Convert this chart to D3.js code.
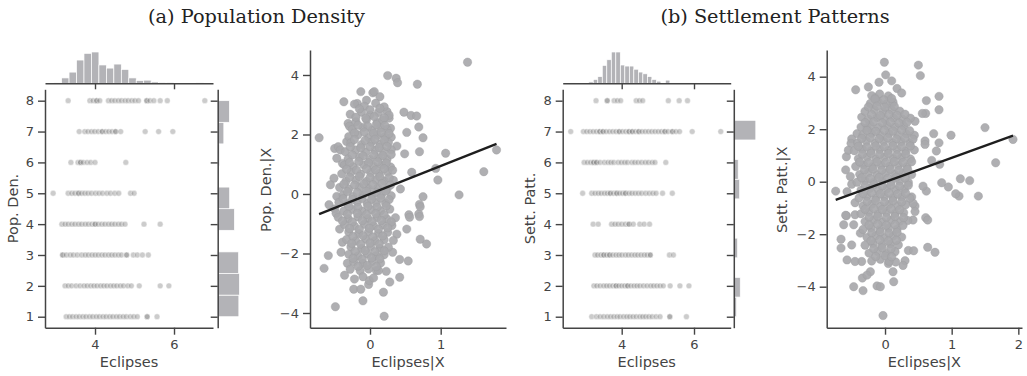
<!DOCTYPE html>
<html><head><meta charset="utf-8">
<script src="https://cdn.jsdelivr.net/npm/d3@7"></script>
<style>
body{margin:0;background:#fff}
svg{display:block}
</style>
</head><body>
<script>
// ---------------- DATA ----------------
const titles = ["(a) Population Density", "(b) Settlement Patterns"];
const xLabelJoint = "Eclipses";
const xLabelReg = "Eclipses|X";
const yLabelsJoint = ["Pop. Den.", "Sett. Patt."];
const yLabelsReg = ["Pop. Den.|X", "Sett. Patt.|X"];

const jointXTicks = [4, 6];
const jointYTicks = [1, 2, 3, 4, 5, 6, 7, 8];
const regXTicksA = [0, 1];
const regXTicksB = [0, 1, 2];
const regYTicks = [-4, -2, 0, 2, 4];

// joint scatter: [category value, eclipses values]
const jointA = [
  [8, [3.32,3.87,3.95,4.04,4.04,4.12,4.34,4.42,4.5,4.59,4.67,4.76,4.84,4.93,5.01,5.1,5.31,5.31,5.39,5.49,5.65,5.83,6.78]],
  [7, [3.6,3.74,3.82,3.91,3.99,4.08,4.18,4.18,4.27,4.35,4.43,4.52,4.52,4.65,5.27,5.61,5.97]],
  [6, [3.39,3.57,3.63,3.63,3.7,3.8,3.89,4.0,4.78]],
  [5, [2.94,3.32,3.41,3.49,3.58,3.58,3.66,3.74,3.82,3.91,4.01,4.1,4.19,4.3,4.39,4.5,4.6,4.9,4.99]],
  [4, [3.16,3.24,3.32,3.41,3.49,3.58,3.66,3.75,3.83,3.92,4.0,4.0,4.08,4.17,4.25,4.34,4.42,4.5,4.59,4.67,4.76,5.24,5.65]],
  [3, [3.18,3.18,3.27,3.37,3.45,3.55,3.66,3.75,3.83,3.92,4.0,4.08,4.17,4.25,4.34,4.42,4.5,4.59,4.67,4.8,4.8,4.97,5.07,5.2,5.35]],
  [2, [3.24,3.32,3.41,3.52,3.62,3.72,3.8,3.89,3.97,4.05,4.14,4.22,4.3,4.39,4.47,4.55,4.64,4.72,4.83,4.92,5.12,5.65,5.87]],
  [1, [3.27,3.35,3.43,3.52,3.6,3.69,3.77,3.86,3.94,4.03,4.11,4.2,4.28,4.37,4.45,4.54,4.62,4.71,4.79,4.89,4.98,5.07,5.32,5.32,5.57]]
];
const jointB = [
  [8, [3.29,3.6,3.6,3.79,3.88,3.97,4.4,4.49,4.58,5.29,5.59,5.82]],
  [7, [2.59,2.94,3.03,3.12,3.21,3.3,3.39,3.39,3.48,3.48,3.57,3.66,3.75,3.84,3.93,3.93,4.02,4.11,4.2,4.2,4.29,4.29,4.38,4.47,4.47,4.56,4.65,4.74,4.83,4.92,5.01,5.1,5.19,5.19,5.28,5.4,5.4,5.5,5.6,5.95,6.74]],
  [6, [2.96,3.05,3.14,3.22,3.22,3.3,3.3,3.4,3.52,3.62,3.7,3.78,3.9,3.99,4.08,4.16,4.28,4.36,4.45,4.55,4.65,4.74,4.84,4.92,5.22]],
  [5, [2.92,3.17,3.26,3.35,3.43,3.52,3.6,3.68,3.68,3.77,3.86,3.86,3.94,4.02,4.1,4.1,4.2,4.28,4.37,4.46,4.55,4.66,4.76,4.86,4.95,5.13,5.4]],
  [4, [3.21,3.35,3.72,3.81,3.9,4.0,4.1,4.2,4.2,4.32,4.5,4.62,4.77]],
  [3, [3.26,3.33,3.42,3.5,3.5,3.58,3.66,3.66,3.75,3.84,3.92,4.0,4.1,4.18,4.27,4.36,4.44,4.53,4.62,4.7,4.79,4.79,5.32,5.43]],
  [2, [3.23,3.31,3.4,3.5,3.58,3.66,3.75,3.84,3.84,3.92,4.0,4.08,4.16,4.16,4.25,4.34,4.42,4.5,4.6,4.7,4.8,4.88,4.97,5.06,5.15,5.34,5.61,5.86]],
  [1, [3.17,3.3,3.4,3.5,3.6,3.69,3.78,3.87,3.95,4.05,4.14,4.22,4.31,4.4,4.5,4.58,4.66,4.75,4.84,4.95,5.06,5.33,5.33,5.79]]
];

// marginal histograms (counts)
const eclHistStartA = 2.965, eclHistWidthA = 0.189;
const eclCountsA = [1,12,25,52,67,70,41,34,43,31,12,6,7,3,2,2,0,0,0,1];
const eclHistStartB = 2.59, eclHistWidthB = 0.1247;
const eclCountsB = [1,0,0,0,4,11,19,51,67,89,89,52,49,49,40,32,27,19,11,6,0,9,1,1,1,1,1,1,0,0,0,0,0,1];
const catRange = [1, 8];
const catCountsA = [76,78,75,0,60,43,0,7,22,42];        // 10 equal bins over [1,8]
const catCountsB = [37,87,0,51,14,0,78,59,0,296,10];    // 11 equal bins over [1,8]

// partial regression scatter points [Eclipses|X, Y|X]
const regA = [
  [-0.72,1.89],[1.38,4.43],[0.67,3.69],[1.79,1.48],[1.61,0.75],[1.26,-0.03],[1.07,1.37],[0.96,0.47],[0.93,0.86],[0.75,-0.09],[0.70,-0.35],[0.69,-0.67],[0.55,-0.70],[0.59,0.73],[0.75,1.89],[0.69,2.25],[0.70,1.42],[0.52,2.07],[0.48,2.75],[0.58,2.64],[0.66,2.62],[0.38,1.61],[0.49,1.35],[0.43,0.17],[0.25,3.98],[0.37,3.89],[0.39,3.74],[-0.37,3.10],[-0.13,3.44],[-0.18,3.04],[-0.05,3.15],[0.04,3.40],[0.06,3.44],[0.14,3.27],[-0.50,1.53],[-0.45,1.59],[-0.33,1.76],[-0.31,2.37],[-0.29,2.28],[-0.39,1.03],[-0.51,0.53],[-0.56,0.31],[-0.47,-0.08],[-0.58,-0.36],
  [-0.65,-2.50],[-0.59,-2.07],[-0.49,-3.79],[-0.10,-3.59],[0.20,-4.11],[0.19,-3.30],[-0.23,-3.20],[-0.13,-3.20],[-0.02,-3.04],[0.28,-2.96],[0.42,-2.80],[0.23,-2.60],[0.42,-2.20],[0.54,-2.25],[0.32,-1.96],[0.71,-1.52],[0.80,-1.68],[0.52,-1.18],[0.56,-0.78],[0.70,-0.76],[0.71,-0.43],[0.38,-1.35],[-0.43,-1.18],[-0.39,-1.62],[-0.41,-1.96],[-0.32,-2.33],[-0.36,-2.73],[-0.22,-2.86],[-0.01,-2.91],[0.09,-2.57],
  [0.24,2.77],[0.27,2.55],[0.29,2.21],[0.30,1.91],[-0.42,1.48],[-0.47,1.20],[-0.5,-0.5],[-0.48,-0.65],
  [-0.22,3.02],[-0.08,2.95],[0.08,3.05],[0.2,2.93],
  [-0.28,2.68],[-0.12,2.75],[0.0,2.66],[0.12,2.74],[0.27,2.65],
  [-0.2,2.43],[-0.05,2.5],[0.1,2.4],[0.18,2.48],
  [-0.25,2.17],[-0.1,2.24],[0.03,2.15],[0.15,2.22],[0.24,2.18],
  [-0.3,1.93],[-0.17,1.99],[-0.02,1.9],[0.1,1.97],[0.21,1.92],
  [-0.27,1.72],[-0.12,1.66],[0.02,1.74],[0.14,1.68],[0.26,1.73],
  [-0.35,1.42],[-0.2,1.48],[-0.06,1.41],[0.07,1.47],[0.19,1.43],[0.3,1.49],
  [-0.31,1.18],[-0.15,1.23],[0.0,1.16],[0.12,1.22],[0.24,1.17],
  [-0.36,0.97],[-0.24,0.92],[-0.09,0.98],[0.05,0.93],[0.17,0.97],[0.29,0.91],
  [-0.4,0.68],[-0.27,0.73],[-0.13,0.67],[0.01,0.72],[0.13,0.69],[0.25,0.74],
  [-0.34,0.43],[-0.2,0.47],[-0.05,0.42],[0.08,0.48],[0.2,0.44],[0.33,0.46],
  [-0.43,0.22],[-0.3,0.17],[-0.15,0.23],[-0.02,0.18],[0.11,0.21],[0.24,0.16],
  [-0.38,-0.03],[-0.24,-0.08],[-0.1,-0.02],[0.03,-0.07],[0.16,-0.04],[0.3,-0.06],
  [-0.44,-0.28],[-0.32,-0.33],[-0.18,-0.27],[-0.04,-0.32],[0.09,-0.29],[0.22,-0.31],
  [-0.37,-0.57],[-0.25,-0.52],[-0.11,-0.58],[0.02,-0.53],[0.15,-0.56],[0.28,-0.51],
  [-0.45,-0.78],[-0.31,-0.83],[-0.17,-0.77],[-0.03,-0.82],[0.1,-0.79],[0.24,-0.84],[0.36,-0.8],
  [-0.36,-1.03],[-0.22,-1.08],[-0.08,-1.02],[0.05,-1.07],[0.18,-1.04],[0.31,-1.06],
  [-0.3,-1.28],[-0.16,-1.33],[-0.02,-1.27],[0.12,-1.32],[0.25,-1.29],
  [-0.33,-1.53],[-0.2,-1.58],[-0.06,-1.52],[0.07,-1.57],[0.2,-1.54],[0.33,-1.56],
  [-0.27,-1.78],[-0.12,-1.83],[0.01,-1.77],[0.14,-1.82],[0.26,-1.79],
  [-0.3,-2.03],[-0.17,-2.08],[-0.04,-2.02],[0.09,-2.07],[0.2,-2.04],
  [-0.23,-2.28],[-0.1,-2.33],[0.03,-2.27],[0.15,-2.32],
  [-0.28,-2.53],[-0.14,-2.58],[-0.02,-2.52],[0.12,-2.57],
  [-0.1,-2.78],[0.05,-2.82],
  [-0.15,2.86],[0.0,2.83],[0.14,2.88],
  [-0.2,2.58],[-0.06,2.55],[0.06,2.6],[0.2,2.56],
  [-0.17,2.31],[-0.03,2.28],[0.09,2.33],[0.21,2.3],
  [-0.22,2.05],[-0.08,2.08],[0.05,2.04],[0.16,2.07],[0.27,2.03],
  [-0.22,1.83],[-0.07,1.8],[0.07,1.84],[0.2,1.81],
  [-0.28,1.58],[-0.13,1.55],[0.0,1.59],[0.13,1.56],[0.24,1.6],
  [-0.25,1.31],[-0.1,1.28],[0.05,1.32],[0.18,1.29],[0.3,1.33],
  [-0.29,1.06],[-0.16,1.09],[-0.02,1.05],[0.11,1.08],[0.23,1.04],
  [-0.33,0.83],[-0.19,0.8],[-0.05,0.84],[0.08,0.81],[0.2,0.85],[0.32,0.8],
  [-0.29,0.56],[-0.15,0.59],[0.0,0.55],[0.14,0.58],[0.27,0.54],
  [-0.37,0.33],[-0.22,0.3],[-0.09,0.34],[0.04,0.31],[0.17,0.35],[0.29,0.3],
  [-0.32,0.08],[-0.18,0.05],[-0.05,0.09],[0.09,0.06],[0.22,0.1],
  [-0.38,-0.16],[-0.25,-0.19],[-0.11,-0.15],[0.02,-0.18],[0.15,-0.14],[0.27,-0.19],
  [-0.3,-0.42],[-0.17,-0.45],[-0.03,-0.41],[0.1,-0.44],[0.23,-0.4],
  [-0.32,-0.68],[-0.18,-0.65],[-0.05,-0.69],[0.08,-0.66],[0.2,-0.7],
  [-0.39,-0.91],[-0.25,-0.94],[-0.11,-0.9],[0.03,-0.93],[0.16,-0.89],[0.3,-0.94],
  [-0.29,-1.16],[-0.15,-1.19],[-0.01,-1.15],[0.12,-1.18],[0.25,-1.14],
  [-0.24,-1.43],[-0.1,-1.4],[0.04,-1.44],[0.18,-1.41],
  [-0.26,-1.66],[-0.13,-1.69],[0.0,-1.65],[0.13,-1.68],
  [-0.21,-1.93],[-0.07,-1.9],[0.07,-1.94],[0.2,-1.91],
  [-0.24,-2.16],[-0.11,-2.19],[0.02,-2.15],[0.14,-2.18],
  [-0.17,-2.43],[-0.04,-2.4],[0.09,-2.44]
];
const regB = [
  [-0.01,4.55],[0.50,4.44],[0.53,4.04],[0.01,4.07],[-0.09,3.79],[0.10,3.84],[-0.44,3.50],[-0.25,3.61],[0.18,3.55],[0.25,3.38],[-0.15,3.20],[0.81,3.25],[0.81,2.74],[0.62,3.09],[0.61,2.60],[0.56,2.60],[0.45,2.30],[-0.35,2.46],[-0.27,2.06],[-0.42,1.83],[-0.50,1.63],[-0.51,1.46],[-0.59,0.45],[-0.74,-0.36],[-0.57,-0.38],[0.73,1.83],[0.99,1.77],[1.50,2.06],[1.92,1.61],[1.66,0.72],[1.27,0.04],[1.13,0.11],[1.40,-0.55],[1.11,-0.55],[1.06,-0.46],[0.95,-0.20],[0.85,-0.04],[0.82,0.66],[0.81,1.48],[0.60,1.55],[0.60,1.42],[0.77,1.17],[0.70,0.81],[0.62,-0.36],[0.57,-0.17],[0.40,-0.58],[0.45,-0.93],[0.61,-1.37],[-0.58,-1.30],[-0.45,-0.80],
  [-0.03,-5.10],[-0.47,-4.00],[-0.33,-4.15],[-0.34,-3.67],[-0.12,-3.97],[-0.07,-4.00],[0.13,-3.81],[0.12,-3.43],[0.30,-3.01],[0.27,-3.19],[0.35,-2.62],[0.43,-2.63],[0.64,-2.50],[0.75,-2.69],[0.64,-1.46],[0.42,-1.46],[0.45,-1.14],[0.42,-0.82],[-0.57,-2.98],[-0.66,-2.53],[-0.66,-2.19],[-0.50,-2.41],[-0.62,-1.64],[-0.59,-1.28],[-0.45,-1.26],[-0.47,-1.64],[-0.37,-1.96],[-0.35,-3.04],[-0.45,-3.04],[-0.22,-3.43],[-0.27,-3.56],[0.05,-3.12],[0.16,-3.06],
  [-0.58,0.95],[-0.55,1.2],[-0.52,0.2],[-0.5,-0.1],
  [-0.2,3.28],[-0.08,3.34],[0.05,3.27],
  [-0.22,2.98],[-0.1,3.04],[0.02,2.96],[0.12,3.03],
  [-0.3,2.68],[-0.16,2.74],[-0.03,2.67],[0.1,2.73],[0.22,2.69],
  [-0.25,2.38],[-0.12,2.44],[0.0,2.37],[0.13,2.43],[0.26,2.39],[0.38,2.42],
  [-0.36,2.08],[-0.22,2.14],[-0.1,2.07],[0.03,2.13],[0.15,2.09],[0.28,2.12],
  [-0.33,1.78],[-0.2,1.84],[-0.07,1.77],[0.06,1.83],[0.19,1.79],[0.32,1.82],[0.44,1.77],
  [-0.41,1.48],[-0.28,1.54],[-0.15,1.47],[-0.02,1.53],[0.11,1.49],[0.24,1.52],[0.37,1.47],
  [-0.46,1.18],[-0.34,1.24],[-0.21,1.17],[-0.08,1.23],[0.05,1.19],[0.18,1.22],[0.31,1.17],[0.44,1.21],
  [-0.4,0.88],[-0.27,0.94],[-0.14,0.87],[-0.01,0.93],[0.12,0.89],[0.25,0.92],[0.38,0.87],
  [-0.44,0.58],[-0.32,0.64],[-0.19,0.57],[-0.06,0.63],[0.07,0.59],[0.2,0.62],[0.33,0.57],
  [-0.38,0.28],[-0.25,0.34],[-0.12,0.27],[0.01,0.33],[0.14,0.29],[0.27,0.32],[0.4,0.27],
  [-0.42,-0.02],[-0.3,0.04],[-0.17,-0.03],[-0.04,0.03],[0.09,-0.01],[0.22,0.02],[0.35,-0.03],
  [-0.36,-0.32],[-0.23,-0.26],[-0.1,-0.33],[0.03,-0.27],[0.16,-0.31],[0.29,-0.28],
  [-0.39,-0.62],[-0.27,-0.56],[-0.14,-0.63],[-0.01,-0.57],[0.12,-0.61],[0.25,-0.58],[0.37,-0.63],
  [-0.33,-0.92],[-0.2,-0.86],[-0.07,-0.93],[0.06,-0.87],[0.19,-0.91],[0.31,-0.88],
  [-0.36,-1.22],[-0.24,-1.16],[-0.11,-1.23],[0.02,-1.17],[0.15,-1.21],[0.28,-1.18],
  [-0.3,-1.52],[-0.17,-1.46],[-0.04,-1.53],[0.09,-1.47],[0.22,-1.51],[0.34,-1.48],
  [-0.33,-1.82],[-0.21,-1.76],[-0.08,-1.83],[0.05,-1.77],[0.18,-1.81],
  [-0.27,-2.12],[-0.14,-2.06],[-0.01,-2.13],[0.12,-2.07],[0.25,-2.11],
  [-0.3,-2.42],[-0.18,-2.36],[-0.05,-2.43],[0.08,-2.37],[0.2,-2.41],
  [-0.24,-2.72],[-0.11,-2.66],[0.02,-2.73],[0.15,-2.67],
  [-0.2,-3.02],[-0.07,-2.96],[0.06,-3.03],
  [-0.15,3.15],[-0.02,3.12],[0.1,3.17],
  [-0.25,2.85],[-0.12,2.88],[0.0,2.84],[0.14,2.87],
  [-0.2,2.55],[-0.07,2.52],[0.06,2.56],[0.18,2.53],[0.3,2.57],
  [-0.3,2.25],[-0.17,2.28],[-0.04,2.24],[0.08,2.27],[0.21,2.23],[0.33,2.26],
  [-0.27,1.95],[-0.14,1.92],[-0.01,1.96],[0.12,1.93],[0.25,1.97],[0.37,1.94],
  [-0.35,1.65],[-0.22,1.68],[-0.09,1.64],[0.04,1.67],[0.17,1.63],[0.3,1.66],[0.42,1.62],
  [-0.4,1.35],[-0.27,1.32],[-0.14,1.36],[-0.01,1.33],[0.12,1.37],[0.25,1.34],[0.38,1.36],
  [-0.34,1.05],[-0.21,1.08],[-0.08,1.04],[0.05,1.07],[0.18,1.03],[0.31,1.06],
  [-0.38,0.75],[-0.25,0.72],[-0.12,0.76],[0.01,0.73],[0.14,0.77],[0.27,0.74],[0.4,0.76],
  [-0.31,0.45],[-0.18,0.48],[-0.05,0.44],[0.08,0.47],[0.21,0.43],[0.34,0.46],
  [-0.35,0.15],[-0.22,0.12],[-0.09,0.16],[0.04,0.13],[0.17,0.17],[0.3,0.14],
  [-0.3,-0.15],[-0.17,-0.12],[-0.04,-0.16],[0.09,-0.13],[0.22,-0.17],[0.35,-0.14],
  [-0.33,-0.45],[-0.2,-0.42],[-0.07,-0.46],[0.06,-0.43],[0.19,-0.47],[0.31,-0.44],
  [-0.27,-0.75],[-0.14,-0.72],[-0.01,-0.76],[0.12,-0.73],[0.25,-0.77],
  [-0.3,-1.05],[-0.17,-1.02],[-0.04,-1.06],[0.09,-1.03],[0.22,-1.07],
  [-0.24,-1.35],[-0.11,-1.32],[0.02,-1.36],[0.15,-1.33],[0.28,-1.37],
  [-0.24,-1.65],[-0.11,-1.62],[0.02,-1.66],[0.15,-1.63],[0.27,-1.67],
  [-0.2,-1.95],[-0.07,-1.92],[0.06,-1.96],[0.18,-1.93],
  [-0.21,-2.25],[-0.08,-2.22],[0.05,-2.26],[0.17,-2.23],
  [-0.17,-2.55],[-0.04,-2.52],[0.09,-2.56],
  [-0.14,-2.85],[0.0,-2.82],[0.1,-2.86]
];
const regSlopeA = 0.94, regInterceptA = 0.0;
const regSlopeB = 0.92, regInterceptB = -0.01;

// ---------------- DRAWING ----------------
const W = 1027, H = 376;
const AX = "#444", TXT = "#444";
const SANS = "DejaVu Sans, sans-serif";
const svg = d3.select("body").append("svg").attr("width", W).attr("height", H);

function styleAxis(g) {
  g.selectAll("path.domain").attr("stroke", AX).attr("stroke-width", 1.5);
  g.selectAll(".tick line").attr("stroke", AX).attr("stroke-width", 1.4);
  g.selectAll(".tick text").attr("fill", TXT).style("font-size", "13px").style("font-family", SANS);
}

function yLabel(txt, cx, cy) {
  svg.append("text").attr("transform", `translate(${cx},${cy}) rotate(-90)`)
    .attr("text-anchor", "middle").attr("dominant-baseline", "central")
    .style("font-size", "14.5px").style("font-family", SANS).attr("fill", TXT).text(txt);
}
function xLabel(txt, cx, by) {
  svg.append("text").attr("x", cx).attr("y", by).attr("text-anchor", "middle")
    .style("font-size", "14.5px").style("font-family", SANS).attr("fill", TXT).text(txt);
}
const fmt = d => d < 0 ? "\u2212" + Math.abs(d) : String(d);

function joint(c) {
  const x = d3.scaleLinear().domain(c.xDom).range([c.left, c.right]);
  const y = d3.scaleLinear().domain(c.yDom).range([c.bottom, c.top]);
  const pts = c.rows.flatMap(([yv, xs]) => xs.map(xv => [xv, yv]));
  svg.append("g").selectAll("circle").data(pts).join("circle")
    .attr("cx", d => x(d[0])).attr("cy", d => y(d[1])).attr("r", 2.9)
    .attr("fill", "#7f7f7f").attr("fill-opacity", 0.4)
    .attr("stroke", "#fff").attr("stroke-width", 0.4);
  svg.append("g").attr("transform", `translate(0,${c.bottom})`)
    .call(d3.axisBottom(x).tickValues(jointXTicks).tickFormat(fmt).tickSize(7).tickSizeOuter(0).tickPadding(5))
    .call(styleAxis);
  svg.append("g").attr("transform", `translate(${c.left},0)`)
    .call(d3.axisLeft(y).tickValues(jointYTicks).tickFormat(fmt).tickSize(7).tickSizeOuter(0).tickPadding(4))
    .call(styleAxis);
  // top marginal histogram
  const hTop = d3.scaleLinear().domain([0, d3.max(c.xCounts)]).range([0, c.topMax]);
  svg.append("g").selectAll("rect").data(c.xCounts).join("rect")
    .attr("x", (d, i) => x(c.xStart + i * c.xWidth))
    .attr("width", (d, i) => x(c.xStart + (i + 1) * c.xWidth) - x(c.xStart + i * c.xWidth))
    .attr("y", d => c.topBase - hTop(d)).attr("height", d => hTop(d))
    .attr("fill", "#b3b3b7").attr("stroke", "#fff").attr("stroke-width", 0.7);
  svg.append("g").attr("transform", `translate(0,${c.topBase})`)
    .call(d3.axisBottom(x).tickValues(jointXTicks).tickSize(6).tickSizeOuter(0).tickFormat(""))
    .call(styleAxis);
  // right marginal histogram
  const nb = c.yCounts.length;
  const bw = (catRange[1] - catRange[0]) / nb;
  const hR = d3.scaleLinear().domain([0, d3.max(c.yCounts)]).range([0, c.rightMax]);
  svg.append("g").selectAll("rect").data(c.yCounts).join("rect")
    .attr("x", c.margX)
    .attr("y", (d, i) => y(catRange[0] + (i + 1) * bw))
    .attr("height", (d, i) => y(catRange[0] + i * bw) - y(catRange[0] + (i + 1) * bw))
    .attr("width", d => hR(d))
    .attr("fill", "#b3b3b7").attr("stroke", "#fff").attr("stroke-width", 0.7);
  svg.append("g").attr("transform", `translate(${c.margX},0)`)
    .call(d3.axisLeft(y).tickValues(jointYTicks).tickSize(7).tickSizeOuter(0).tickFormat(""))
    .call(styleAxis);
  xLabel(xLabelJoint, (c.left + c.right) / 2, 367);
  yLabel(c.yLab, c.left - 32.5, (c.top + c.bottom) / 2);
}

function reg(c) {
  const x = d3.scaleLinear().domain(c.xDom).range([c.left, c.right]);
  const y = d3.scaleLinear().domain(c.yDom).range([c.bottom, c.top]);
  svg.append("g").selectAll("circle").data(c.pts).join("circle")
    .attr("cx", d => x(d[0])).attr("cy", d => y(d[1])).attr("r", 4.2)
    .attr("fill", "#a8a8ab").attr("fill-opacity", 0.92)
    .attr("stroke", "#9c9c9e").attr("stroke-width", 0.4);
  const ext = d3.extent(c.pts, d => d[0]);
  svg.append("line")
    .attr("x1", x(ext[0])).attr("y1", y(c.intercept + c.slope * ext[0]))
    .attr("x2", x(ext[1])).attr("y2", y(c.intercept + c.slope * ext[1]))
    .attr("stroke", "#1e1e1e").attr("stroke-width", 2.3);
  svg.append("g").attr("transform", `translate(0,${c.bottom})`)
    .call(d3.axisBottom(x).tickValues(c.xTicks).tickFormat(fmt).tickSize(7).tickSizeOuter(0).tickPadding(5))
    .call(styleAxis);
  svg.append("g").attr("transform", `translate(${c.left},0)`)
    .call(d3.axisLeft(y).tickValues(regYTicks).tickFormat(fmt).tickSize(7).tickSizeOuter(0).tickPadding(4))
    .call(styleAxis);
  xLabel(xLabelReg, (c.left + c.right) / 2, 367);
  yLabel(c.yLab, c.left - 44.5, (c.top + c.bottom) / 2 + 1);
}

joint({left:45, right:213, top:89.3, bottom:327.7, xDom:[2.734, 6.987], yDom:[0.644, 8.369],
  rows: jointA, xStart: eclHistStartA, xWidth: eclHistWidthA, xCounts: eclCountsA, topBase: 83.3, topMax: 31.3,
  yCounts: catCountsA, margX: 217.7, rightMax: 21.7, yLab: yLabelsJoint[0]});
joint({left:562.7, right:730.7, top:89.3, bottom:327.7, xDom:[2.368, 7.015], yDom:[0.644, 8.369],
  rows: jointB, xStart: eclHistStartB, xWidth: eclHistWidthB, xCounts: eclCountsB, topBase: 83.3, topMax: 31.3,
  yCounts: catCountsB, margX: 733.8, rightMax: 22, yLab: yLabelsJoint[1]});
reg({left:310, right:506, top:50, bottom:327.7, xDom:[-0.849, 1.924], yDom:[-4.494, 4.84],
  pts: regA, slope: regSlopeA, intercept: regInterceptA, xTicks: regXTicksA, yLab: yLabelsReg[0]});
reg({left:826.7, right:1022, top:50, bottom:327.7, xDom:[-0.875, 2.055], yDom:[-5.562, 5.017],
  pts: regB, slope: regSlopeB, intercept: regInterceptB, xTicks: regXTicksB, yLab: yLabelsReg[1]});

const SERIF = "DejaVu Serif, serif";
svg.append("text").attr("x", 256.5).attr("y", 23).attr("text-anchor", "middle")
  .style("font-family", SERIF).style("font-size", "19.3px").attr("fill", "#222").text(titles[0]);
svg.append("text").attr("x", 775).attr("y", 23).attr("text-anchor", "middle")
  .style("font-family", SERIF).style("font-size", "19.3px").attr("fill", "#222").text(titles[1]);
</script>
</body></html>
